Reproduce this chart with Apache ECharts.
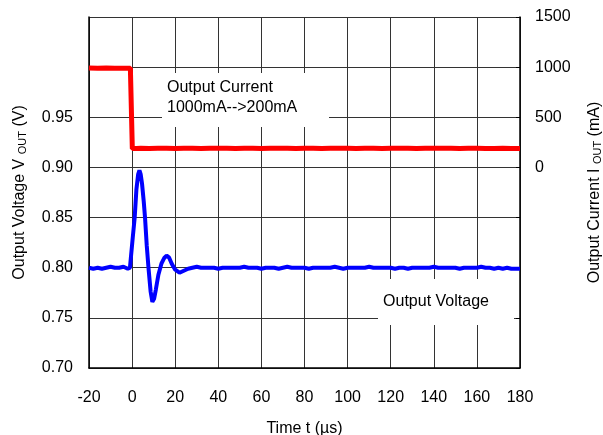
<!DOCTYPE html>
<html>
<head>
<meta charset="utf-8">
<script src="https://cdn.jsdelivr.net/npm/echarts@6/dist/echarts.min.js"></script>
<style>
html, body { margin: 0; padding: 0; background: #fff; }
#chart { width: 603px; height: 435px; }
</style>
</head>
<body>
<div id="chart"></div>
<script>
// 输出电压 (V) 采样
const timeV = [-20, -18, -16, -14, -12, -10, -8, -6, -4, -2, -1, -0.3,
    0.3, 1.2, 2.0, 2.8, 3.4, 4.0, 4.6, 5.4, 6.0, 6.8, 7.6, 8.6, 9.4, 10.2, 11.0, 12.2, 13.6, 15.0, 16.0, 17.2, 18.4, 20, 22, 24, 26,
    28, 30, 32, 34, 36, 38, 40, 42, 44, 46, 48, 50, 52, 54, 56, 58, 60, 62, 64, 66, 68, 70, 72, 74, 76, 78,
    80, 82, 84, 86, 88, 90, 92, 94, 96, 98, 100, 102, 104, 106, 108, 110, 112, 114, 116, 118, 120, 122, 124, 126,
    128, 130, 132, 134, 136, 138, 140, 142, 144, 146, 148, 150, 152, 154, 156, 158, 160, 162, 164, 166, 168, 170,
    172, 174, 176, 178, 180]
const voltage = [0.800, 0.799, 0.800, 0.799, 0.800, 0.801, 0.800, 0.800, 0.801, 0.799, 0.800, 0.800,
    0.830, 0.850, 0.878, 0.893, 0.897, 0.893, 0.884, 0.866, 0.850, 0.822, 0.800, 0.776, 0.766, 0.769, 0.778, 0.793, 0.804, 0.810, 0.812, 0.810, 0.804, 0.798, 0.795, 0.797, 0.799,
    0.800, 0.801, 0.800, 0.800, 0.800, 0.800, 0.799, 0.800, 0.800, 0.800, 0.800, 0.800, 0.801, 0.800, 0.800, 0.800, 0.799, 0.800, 0.800, 0.800, 0.799, 0.800, 0.801, 0.800, 0.800, 0.800,
    0.800, 0.799, 0.800, 0.800, 0.800, 0.800, 0.800, 0.801, 0.800, 0.799, 0.800, 0.800, 0.800, 0.800, 0.800, 0.801, 0.800, 0.800, 0.800, 0.800, 0.800, 0.799, 0.800, 0.800,
    0.799, 0.800, 0.800, 0.800, 0.800, 0.800, 0.801, 0.800, 0.800, 0.800, 0.800, 0.800, 0.799, 0.800, 0.800, 0.800, 0.800, 0.801, 0.800, 0.800, 0.799, 0.800,
    0.799, 0.800, 0.799, 0.799, 0.799]

// 输出电流 (mA) 采样
const timeI = [-20, -16, -12, -8, -4, -0.8, 0.1, 2,
    4, 8, 12, 16, 20, 24, 28, 32, 36, 40, 44, 48, 52, 56, 60, 64, 68, 72, 76, 80, 84, 88, 92,
    96, 100, 104, 108, 112, 116, 120, 124, 128, 132, 136, 140, 144, 148, 152, 156, 160, 164, 168, 172, 176, 180]
const current = [992, 990, 991, 990, 990, 990, 188, 189,
    190, 189, 190, 191, 189, 190, 190, 189, 191, 190, 190, 189, 190, 191, 189, 190, 190, 191, 189, 190, 190, 189, 190,
    191, 190, 189, 190, 190, 189, 191, 190, 190, 189, 190, 190, 190, 191, 189, 190, 190, 189, 189, 190, 188, 189]

const fontFamily = 'Liberation Sans, Arial, sans-serif'

const zip = (xs, ys) => xs.map((x, i) => [x, ys[i]])

const chart = echarts.init(document.getElementById('chart'))

const option = {
    animation: false,
    grid: {
        left: 89,
        right: 83,
        top: 17,
        bottom: 67,
        containLabel: false,
        outerBoundsMode: 'none'
    },
    xAxis: {
        type: 'value',
        min: -20,
        max: 180,
        interval: 20,
        name: 'Time t (µs)',
        nameLocation: 'middle',
        nameGap: 53,
        nameTextStyle: { color: '#000', fontSize: 16, fontFamily },
        axisLine: { onZero: false, lineStyle: { color: '#000', width: 1.5 } },
        axisTick: { show: false },
        axisLabel: { color: '#000', fontSize: 16, fontFamily, margin: 22 },
        splitLine: { lineStyle: { color: '#333', width: 1 } }
    },
    yAxis: [
        {
            type: 'value',
            min: 0.70,
            max: 1.05,
            interval: 0.05,
            name: 'Output Voltage V {sub|OUT} (V)',
            nameLocation: 'middle',
            nameGap: 61,
            nameTextStyle: {
                color: '#000', fontSize: 16, fontFamily,
                rich: { sub: { fontSize: 11, fontFamily, color: '#000', verticalAlign: 'bottom' } }
            },
            axisLine: { show: true, onZero: false, lineStyle: { color: '#000', width: 1.5 } },
            axisTick: { show: false },
            axisLabel: {
                color: '#000', fontSize: 16, fontFamily, margin: 16,
                formatter: v => (v < 0.97 ? v.toFixed(2) : '')
            },
            splitLine: { lineStyle: { color: '#333', width: 1 } }
        },
        {
            type: 'value',
            min: -2000,
            max: 1500,
            interval: 500,
            position: 'right',
            name: 'Output Current I {sub|OUT} (mA)',
            nameLocation: 'middle',
            nameGap: 67,
            nameRotate: 90,
            nameTextStyle: {
                color: '#000', fontSize: 16, fontFamily,
                rich: { sub: { fontSize: 11, fontFamily, color: '#000', verticalAlign: 'bottom' } }
            },
            axisLine: { show: true, onZero: false, lineStyle: { color: '#000', width: 1.5 } },
            axisTick: { show: true, inside: true, length: 4, lineStyle: { color: '#000' } },
            axisLabel: {
                color: '#000', fontSize: 16, fontFamily, margin: 15,
                formatter: v => (v >= 0 ? String(v) : '')
            },
            splitLine: { show: false }
        }
    ],
    graphic: [
        { type: 'rect', z: 100, shape: { x: 162, y: 73, width: 167, height: 54 }, style: { fill: '#fff' } },
        {
            type: 'text', z: 101, x: 167, y: 78,
            style: { text: 'Output Current\n1000mA-->200mA', fill: '#000', font: '16px Liberation Sans', lineHeight: 20 }
        },
        { type: 'rect', z: 100, shape: { x: 378, y: 279, width: 136, height: 46 }, style: { fill: '#fff' } },
        {
            type: 'text', z: 101, x: 436, y: 302,
            style: { text: 'Output Voltage', fill: '#000', font: '16px Liberation Sans', align: 'center', verticalAlign: 'middle' }
        }
    ],
    series: [
        {
            name: 'Output Current',
            type: 'line',
            yAxisIndex: 1,
            data: zip(timeI, current),
            showSymbol: false,
            lineStyle: { color: '#ff0000', width: 5 },
            z: 3
        },
        {
            name: 'Output Voltage',
            type: 'line',
            yAxisIndex: 0,
            data: zip(timeV, voltage),
            showSymbol: false,
            lineStyle: { color: '#0000ff', width: 4 },
            z: 3
        }
    ]
}

chart.setOption(option)
</script>
</body>
</html>
